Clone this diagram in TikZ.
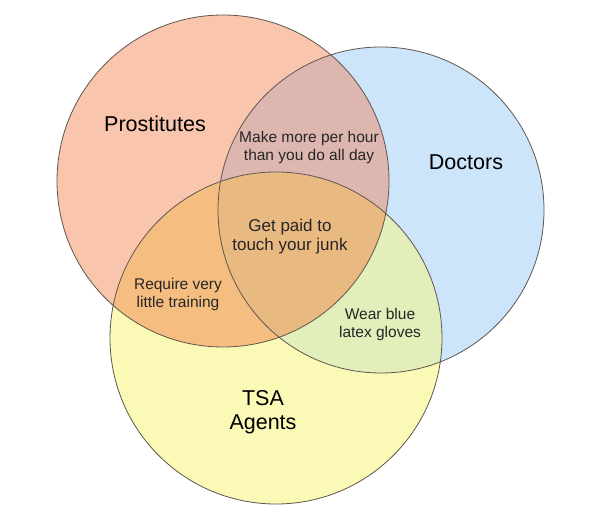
\documentclass[tikz,border=0pt]{standalone}
\usepackage{fontspec}
\setmainfont{Liberation Sans}
\definecolor{rosefill}{HTML}{F9C6AD}
\definecolor{skyfill}{HTML}{CCE5FA}
\definecolor{lemonfill}{HTML}{FBF9B6}
\definecolor{mauvefill}{HTML}{DDB6AF}
\definecolor{orangefill}{HTML}{F5BD80}
\definecolor{limefill}{HTML}{E2EFBA}
\definecolor{corefill}{HTML}{E9B982}
\definecolor{rimgray}{HTML}{5E5650}

\begin{document}
\begin{tikzpicture}[x=1pt, y=-1pt]
\tikzset{
  biglabel/.style={text=black, font=\fontsize{21.5}{24}\selectfont, align=center},
  smalllabel/.style={text=black!85, font=\fontsize{15.5}{18}\selectfont, align=center},
  rim/.style={rimgray, line width=0.8pt}
}

% Background
\useasboundingbox (0,0) rectangle (610,518);
\fill[white] (0,0) rectangle (610,518);

% Circle centres
\coordinate (pc) at (223,181);
\coordinate (dc) at (381,210);
\coordinate (tc) at (276,338);
\def\rad{166pt}
\def\drad{163pt}

% Single sets
\fill[rosefill] (pc) circle[radius=\rad];
\fill[skyfill] (dc) circle[radius=\drad];
\fill[lemonfill] (tc) circle[radius=\rad];

% Pairwise overlaps
\begin{scope}
  \clip (pc) circle[radius=\rad];
  \fill[mauvefill] (dc) circle[radius=\drad];
  \fill[orangefill] (tc) circle[radius=\rad];
\end{scope}
\begin{scope}
  \clip (dc) circle[radius=\drad];
  \fill[limefill] (tc) circle[radius=\rad];
\end{scope}

% Triple overlap
\begin{scope}
  \clip (pc) circle[radius=\rad];
  \clip (dc) circle[radius=\drad];
  \fill[corefill] (tc) circle[radius=\rad];
\end{scope}

% Outlines
\draw[rim] (pc) circle[radius=\rad];
\draw[rim] (dc) circle[radius=\drad];
\draw[rim] (tc) circle[radius=\rad];

% Set labels
\node[biglabel] (prost) at (155,124) {Prostitutes};
\node[biglabel] (doc) at (466,162) {Doctors};
\node[biglabel] (tsa) at (263,412) {TSA\\Agents};

% Overlap labels
\node[smalllabel] (hour) at (309,147) {Make more per hour\\than you do all day};
\node[smalllabel, font=\fontsize{17}{19}\selectfont] (junk) at (290,237) {Get paid to\\touch your junk};
\node[smalllabel] (train) at (178,294) {Require very\\little training};
\node[smalllabel] (glove) at (380,324) {Wear blue\\latex gloves};

\end{tikzpicture}
\end{document}
